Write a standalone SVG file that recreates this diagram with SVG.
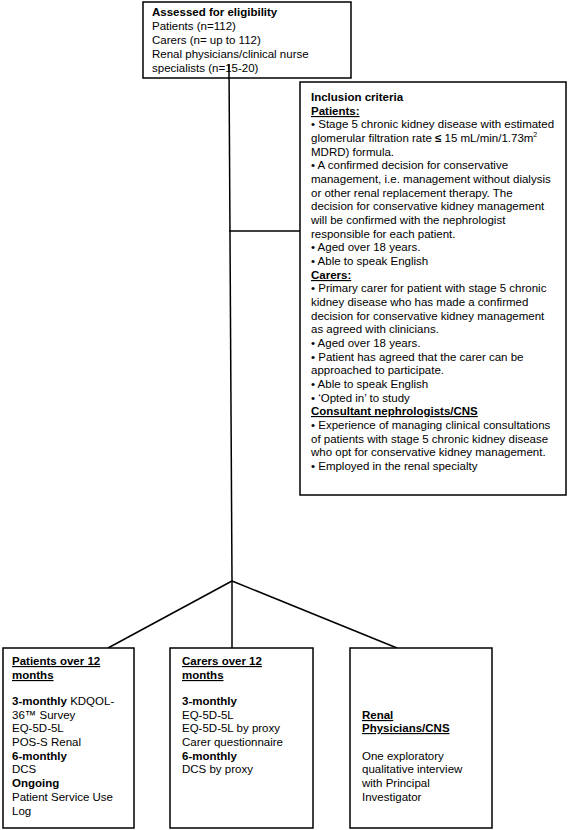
<svg xmlns="http://www.w3.org/2000/svg" width="568" height="830" viewBox="0 0 568 830">
<style>
.box{fill:#fff;stroke:#000;stroke-width:1.5}
.ln{stroke:#000;stroke-width:1.5;fill:none}
text{font-family:"Liberation Sans",Arial,sans-serif;font-size:11.5px;fill:#000}
.b{font-weight:bold}
.u{font-weight:bold;text-decoration:underline}
</style>
<rect width="568" height="830" fill="#fff"/>
<g id="connectors">
<line class="ln" x1="229" y1="64" x2="232" y2="581"/>
<line class="ln" x1="232" y1="581" x2="232" y2="648"/>
<line class="ln" x1="229" y1="231" x2="300" y2="231"/>
<line class="ln" x1="232" y1="581" x2="108" y2="648"/>
<line class="ln" x1="232" y1="581" x2="397" y2="648"/>
</g>
<g id="eligibility">
<rect class="box" x="143" y="2" width="208" height="76"/>
<text x="152" y="16" class="b">Assessed for eligibility</text>
<text x="152" y="30">Patients (n=112)</text>
<text x="152" y="44">Carers (n= up to 112)</text>
<text x="152" y="58">Renal physicians/clinical nurse</text>
<text x="152" y="72">specialists (n=15-20)</text>
</g>
<line class="ln" x1="229" y1="64" x2="229" y2="78"/>
<g id="inclusion">
<rect class="box" x="300" y="82" width="266" height="413"/>
<text x="311" y="101" class="b">Inclusion criteria</text>
<text x="311" y="115" class="u">Patients:</text>
<text x="311" y="128">• Stage 5 chronic kidney disease with estimated</text>
<text x="311" y="142">glomerular filtration rate <tspan class="b">≤</tspan> 15 mL/min/1.73m<tspan font-size="7" dy="-5">2</tspan></text>
<text x="311" y="156">MDRD) formula.</text>
<text x="311" y="169">• A confirmed decision for conservative</text>
<text x="311" y="183">management, i.e. management without dialysis</text>
<text x="311" y="197">or other renal replacement therapy. The</text>
<text x="311" y="210">decision for conservative kidney management</text>
<text x="311" y="224">will be confirmed with the nephrologist</text>
<text x="311" y="238">responsible for each patient.</text>
<text x="311" y="251">• Aged over 18 years.</text>
<text x="311" y="265">• Able to speak English</text>
<text x="311" y="279" class="u">Carers:</text>
<text x="311" y="292">• Primary carer for patient with stage 5 chronic</text>
<text x="311" y="306">kidney disease who has made a confirmed</text>
<text x="311" y="320">decision for conservative kidney management</text>
<text x="311" y="333">as agreed with clinicians.</text>
<text x="311" y="347">• Aged over 18 years.</text>
<text x="311" y="361">• Patient has agreed that the carer can be</text>
<text x="311" y="374">approached to participate.</text>
<text x="311" y="388">• Able to speak English</text>
<text x="311" y="402">• ‘Opted in’ to study</text>
<text x="311" y="415" class="u">Consultant nephrologists/CNS</text>
<text x="311" y="429">• Experience of managing clinical consultations</text>
<text x="311" y="443">of patients with stage 5 chronic kidney disease</text>
<text x="311" y="456">who opt for conservative kidney management.</text>
<text x="311" y="470">• Employed in the renal specialty</text>
</g>
<g id="patients">
<rect class="box" x="3" y="648" width="131" height="180"/>
<text x="12" y="665" class="u">Patients over 12</text>
<text x="12" y="679" class="u">months</text>
<text x="12" y="705"><tspan class="b">3-monthly</tspan> KDQOL-</text>
<text x="12" y="719">36™ Survey</text>
<text x="12" y="732">EQ-5D-5L</text>
<text x="12" y="746">POS-S Renal</text>
<text x="12" y="760" class="b">6-monthly</text>
<text x="12" y="773">DCS</text>
<text x="12" y="787" class="b">Ongoing</text>
<text x="12" y="801">Patient Service Use</text>
<text x="12" y="815">Log</text>
</g>
<g id="carers">
<rect class="box" x="170" y="648" width="143" height="180"/>
<text x="182" y="665" class="u">Carers over 12</text>
<text x="182" y="679" class="u">months</text>
<text x="182" y="705" class="b">3-monthly</text>
<text x="182" y="719">EQ-5D-5L</text>
<text x="182" y="732">EQ-5D-5L by proxy</text>
<text x="182" y="746">Carer questionnaire</text>
<text x="182" y="760" class="b">6-monthly</text>
<text x="182" y="773">DCS by proxy</text>
</g>
<g id="physicians">
<rect class="box" x="350" y="648" width="142" height="180"/>
<text x="362" y="719" class="u">Renal</text>
<text x="362" y="732" class="u">Physicians/CNS</text>
<text x="362" y="760">One exploratory</text>
<text x="362" y="773">qualitative interview</text>
<text x="362" y="787">with Principal</text>
<text x="362" y="801">Investigator</text>
</g>
</svg>
